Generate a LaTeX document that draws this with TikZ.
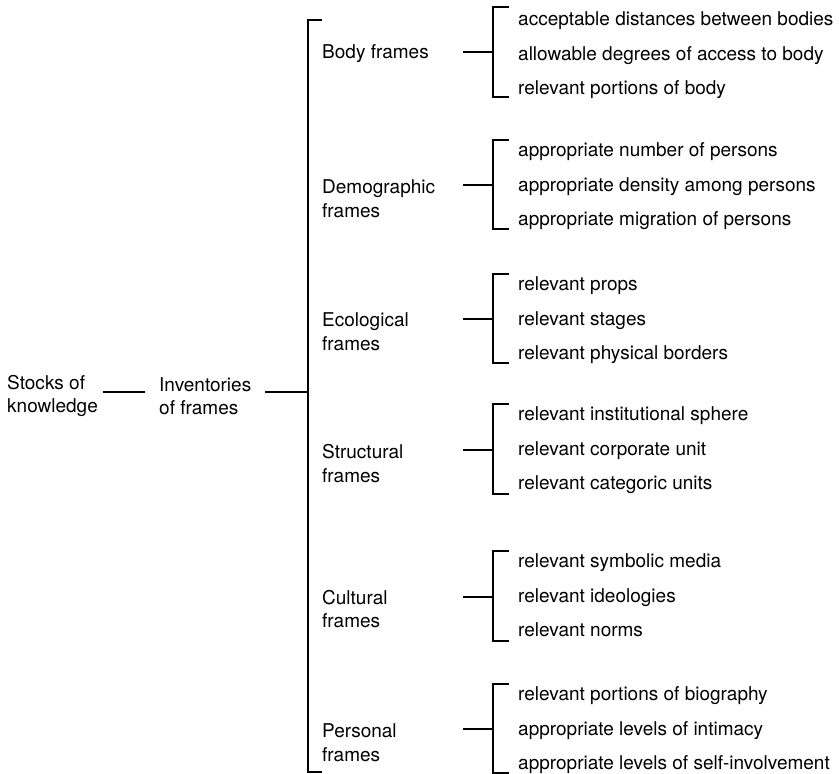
\documentclass[tikz,border=0pt]{standalone}
\usepackage{fontspec}
\setmainfont{TeX Gyre Heros}
\begin{document}
\begin{tikzpicture}[x=1pt,y=-1pt,
  lbl/.style={anchor=west,inner sep=0pt,align=left,font=\fontsize{19}{23.5}\selectfont},
  item/.style={anchor=mid west,inner sep=0pt,font=\fontsize{19}{23.5}\selectfont},
  link/.style={line width=1.8pt,line cap=butt},
  brk/.style={line width=1.8pt,line join=miter}]
\useasboundingbox (0,0) rectangle (839,774);

% root and inventory labels
\node[lbl] (stocks) at (7,396) {Stocks of\\knowledge};
\node[lbl] (inv) at (159,396) {Inventories\\of frames};
\coordinate (s1) at (103,392);
\coordinate (s2) at (145,392);
\coordinate (i1) at (265,392);
\coordinate (spine) at (308,392);
\draw[link] (s1) -- (s2);
\draw[link] (i1) -- (spine);

% main bracket
\coordinate (mt) at (308,20);
\coordinate (mb) at (308,772);
\draw[brk] ([xshift=14]mt) -- (mt) -- (mb) -- ([xshift=14]mb);

% frame groups: label, stem, bracket and first two items
% #1 name, #2 label y, #3 label text, #4 stem y, #5 bracket top, #6 bracket bottom,
% #7 first item y, #8-#9 item texts
\newcommand\framegroup[9]{%
  \node[lbl] (#1) at (322,#2+2) {#3};
  \coordinate (#1s) at (463,#4);
  \coordinate (#1b) at (493,#4);
  \coordinate (#1t) at (493,#5);
  \coordinate (#1e) at (493,#6);
  \draw[link] (#1s) -- (#1b);
  \draw[brk] ([xshift=16]#1t) -- (#1t) -- (#1e) -- ([xshift=16]#1e);
  \node[item] (#1a) at (518,#7+3) {#8};
  \node[item] (#1c) at (518,#7+37.5) {#9};}
% third item of a group
\newcommand\itemthree[3]{\node[item] (#1d) at (518,#2+72) {#3};}

\framegroup{body}{52}{Body frames}{52}{7}{97}{20}{acceptable distances between bodies}{allowable degrees of access to body}
\itemthree{body}{20}{relevant portions of body}

\framegroup{demo}{196.5}{Demographic\\frames}{185}{140}{229}{151}{appropriate number of persons}{appropriate density among persons}
\itemthree{demo}{151}{appropriate migration of persons}

\framegroup{eco}{329.5}{Ecological\\frames}{319}{274}{363}{285}{relevant props}{relevant stages}
\itemthree{eco}{285}{relevant physical borders}

\framegroup{struct}{461.5}{Structural\\frames}{450}{404}{494}{415}{relevant institutional sphere}{relevant corporate unit}
\itemthree{struct}{415}{relevant categoric units}

\framegroup{cult}{607}{Cultural\\frames}{597}{551}{641}{562}{relevant symbolic media}{relevant ideologies}
\itemthree{cult}{562}{relevant norms}

\framegroup{pers}{740.5}{Personal\\frames}{729}{684}{773}{695}{relevant portions of biography}{appropriate levels of intimacy}
\itemthree{pers}{695}{appropriate levels of self-involvement}
\end{tikzpicture}
\end{document}
